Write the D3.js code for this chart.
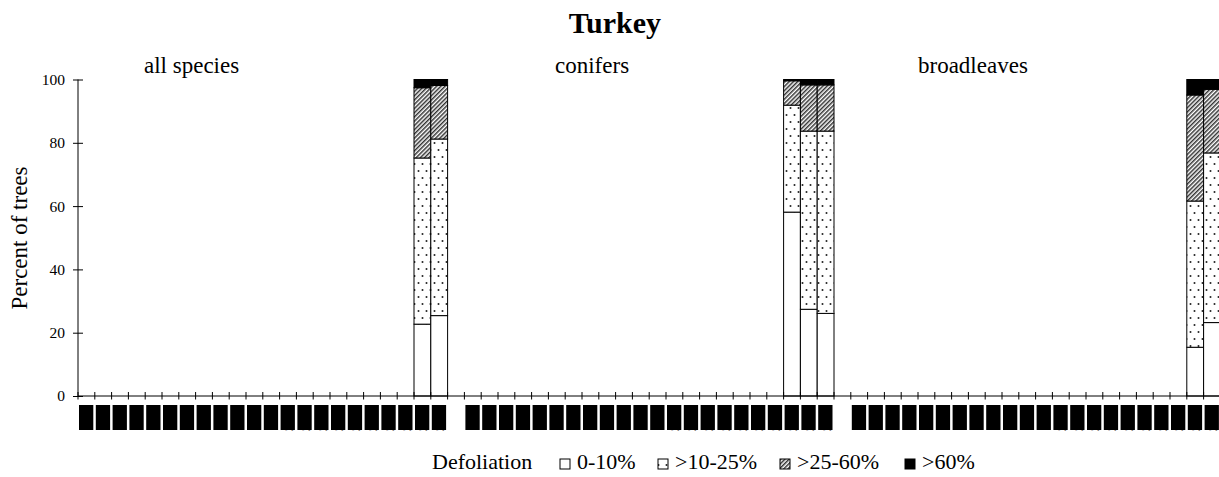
<!DOCTYPE html>
<html>
<head>
<meta charset="utf-8">
<script src="https://cdn.jsdelivr.net/npm/d3@7/dist/d3.min.js"></script>
<style>
  html, body { margin: 0; padding: 0; background: #fff; }
  svg { display: block; font-family: "Liberation Serif", "Times New Roman", serif; }
</style>
</head>
<body>
<svg id="chart" width="1219" height="477"></svg>
<script>
// ---- data ----
const title = "Turkey";
const groups = ["all species", "conifers", "broadleaves"];
const years = ["1988","1989","1990","1991","1992","1993","1994","1995","1996","1997","1998",
               "1999","2000","2001","2002","2003","2004","2005","2006","2007","2008","2009"];
const classes = ["0-10%", ">10-25%", ">25-60%", ">60%"];
const yTicks = [0, 20, 40, 60, 80, 100];
// years with data per group
const yearsAllSpecies = ["2008", "2009"];
const yearsConifers = ["2007", "2008", "2009"];
const yearsBroadleaves = ["2008", "2009"];
// percent of trees per defoliation class [0-10, >10-25, >25-60, >60]
const allSpecies = [[22.7, 52.5, 22.2, 2.6], [25.4, 55.8, 16.9, 1.9]];
const conifers = [[58.1, 33.8, 7.7, 0.4], [27.4, 56.3, 14.6, 1.7], [26.1, 57.6, 14.6, 1.7]];
const broadleaves = [[15.4, 46.2, 33.5, 4.9], [23.2, 53.6, 20.1, 3.1]];

const groupYears = [yearsAllSpecies, yearsConifers, yearsBroadleaves];
const groupValues = [allSpecies, conifers, broadleaves];

// ---- layout ----
const svg = d3.select("#chart");
const W = 1219, H = 477;
const x0 = 78, x1 = 1220.4, yBase = 396, yTop = 79.5;

const slots = [];
groups.forEach((g, gi) => {
  years.forEach(yr => slots.push(g + "|" + yr));
  if (gi < groups.length - 1) slots.push("gap" + gi);
});
const x = d3.scaleBand().domain(slots).range([x0, x1]).padding(0);
const y = d3.scaleLinear().domain([0, 100]).range([yBase, yTop]);

// ---- patterns ----
const defs = svg.append("defs");
const dots = defs.append("pattern").attr("id", "dots").attr("patternUnits", "userSpaceOnUse")
  .attr("width", 8).attr("height", 14);
dots.append("rect").attr("width", 8).attr("height", 14).attr("fill", "#fff");
dots.append("circle").attr("cx", 2.5).attr("cy", 3).attr("r", 1).attr("fill", "#222");
dots.append("circle").attr("cx", 6.5).attr("cy", 10).attr("r", 1).attr("fill", "#222");
const hatch = defs.append("pattern").attr("id", "hatch").attr("patternUnits", "userSpaceOnUse")
  .attr("width", 3).attr("height", 3).attr("patternTransform", "rotate(45)");
hatch.append("rect").attr("width", 3).attr("height", 3).attr("fill", "#fff");
hatch.append("line").attr("x1", 0.75).attr("y1", 0).attr("x2", 0.75).attr("y2", 3)
  .attr("stroke", "#333").attr("stroke-width", 1.5);
const fills = ["#fff", "url(#dots)", "url(#hatch)", "#000"];

// ---- title ----
svg.append("text").attr("x", 615).attr("y", 33).attr("text-anchor", "middle")
  .attr("font-size", 30).attr("font-weight", "bold").text(title);

// ---- group titles ----
const groupTitleX = [144, 555, 918];
groups.forEach((g, gi) => {
  svg.append("text").attr("x", groupTitleX[gi]).attr("y", 73)
    .attr("font-size", 23).text(g);
});

// ---- bars ----
groups.forEach((g, gi) => {
  groupYears[gi].forEach((yr, i) => {
    const vals = groupValues[gi][i];
    let cum = 0;
    vals.forEach((v, k) => {
      svg.append("rect")
        .attr("x", x(g + "|" + yr))
        .attr("width", x.bandwidth())
        .attr("y", y(cum + v))
        .attr("height", y(cum) - y(cum + v))
        .attr("fill", fills[k])
        .attr("stroke", "#000").attr("stroke-width", 1);
      cum += v;
    });
  });
});

// ---- y axis ----
const yAxis = svg.append("g").attr("transform", `translate(${x0},0)`)
  .call(d3.axisLeft(y).tickValues(yTicks).tickSize(5).tickPadding(8));
yAxis.select(".domain").attr("d", `M0,${yBase}V${yTop}`).attr("stroke", "#000");
yAxis.selectAll(".tick line").attr("x1", 5).attr("x2", -5).attr("stroke", "#000");
yAxis.selectAll(".tick text").attr("font-size", 15.5).attr("font-family", "Liberation Serif").attr("fill", "#000");

svg.append("text").attr("transform", `translate(27,238) rotate(-90)`)
  .attr("text-anchor", "middle").attr("font-size", 23).text("Percent of trees");

// ---- x axis ----
const xa = svg.append("g");
xa.append("line").attr("x1", x0).attr("x2", W).attr("y1", yBase).attr("y2", yBase)
  .attr("stroke", "#000").attr("stroke-width", 1);
slots.forEach(s => {
  xa.append("line").attr("x1", x(s)).attr("x2", x(s)).attr("y1", yBase - 4).attr("y2", yBase + 3.5)
    .attr("stroke", "#000").attr("stroke-width", 1);
});

// year labels (rendered as dark blocks as in the reference)
groups.forEach(g => {
  years.forEach(yr => {
    const cx = x(g + "|" + yr) + x.bandwidth() / 2;
    const lab = xa.append("g");
    const t = lab.append("text")
      .attr("transform", `translate(${cx + 5},${405}) rotate(-90)`)
      .attr("text-anchor", "end").attr("font-size", 13).attr("font-weight", "bold")
      .attr("fill", "#000").text(yr);
    const len = t.node().getComputedTextLength();
    lab.insert("rect", "text")
      .attr("x", x(g + "|" + yr) + 1).attr("width", x.bandwidth() - 2.5)
      .attr("y", 405).attr("height", len - 1)
      .attr("fill", "#000");
  });
});

// ---- legend ----
const leg = svg.append("g");
leg.append("text").attr("x", 432).attr("y", 469).attr("font-size", 22).text("Defoliation");
const legX = [560, 658, 780, 905];
classes.forEach((c, k) => {
  leg.append("rect").attr("x", legX[k]).attr("y", 459).attr("width", 10).attr("height", 10)
    .attr("fill", fills[k]).attr("stroke", "#000").attr("stroke-width", 1);
  leg.append("text").attr("x", legX[k] + 17).attr("y", 469).attr("font-size", 22).text(c);
});
</script>
</body>
</html>
